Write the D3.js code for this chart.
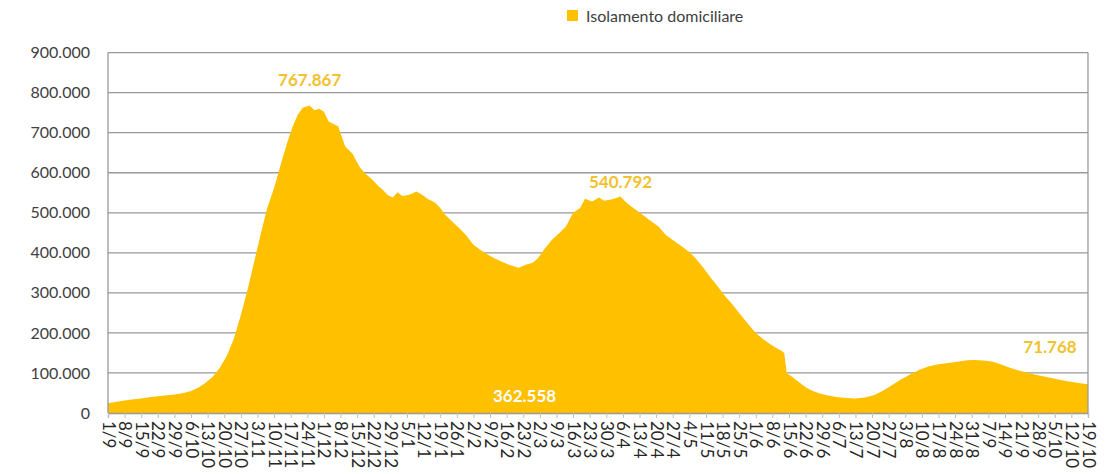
<!DOCTYPE html>
<html>
<head>
<meta charset="utf-8">
<script src="https://cdn.jsdelivr.net/npm/d3@7"></script>
<style>
  body { margin: 0; background: #fff; }
  svg { display: block; font-family: Lato, "Open Sans", sans-serif; }
</style>
</head>
<body>
<div id="chart"></div>
<script>
// Isolamento domiciliare, valori giornalieri (stime)
const date = [
  "2020-09-01","2020-09-04","2020-09-08","2020-09-11","2020-09-15","2020-09-19","2020-09-22","2020-09-26","2020-09-29",
  "2020-10-03","2020-10-06","2020-10-09","2020-10-12","2020-10-15","2020-10-18","2020-10-21","2020-10-24","2020-10-27","2020-10-30",
  "2020-11-02","2020-11-05","2020-11-07","2020-11-10","2020-11-13","2020-11-16","2020-11-18","2020-11-20","2020-11-22","2020-11-25","2020-11-27","2020-11-29",
  "2020-12-01","2020-12-03","2020-12-05","2020-12-07","2020-12-10","2020-12-13","2020-12-16","2020-12-18","2020-12-21","2020-12-24","2020-12-26","2020-12-28","2020-12-30",
  "2021-01-01","2021-01-03","2021-01-06","2021-01-09","2021-01-11","2021-01-14","2021-01-17","2021-01-19","2021-01-21","2021-01-24","2021-01-27","2021-01-30",
  "2021-02-02","2021-02-05","2021-02-08","2021-02-11","2021-02-14","2021-02-17","2021-02-21","2021-02-24","2021-02-27",
  "2021-03-01","2021-03-04","2021-03-07","2021-03-10","2021-03-13","2021-03-16","2021-03-19","2021-03-21","2021-03-24","2021-03-27","2021-03-29",
  "2021-04-01","2021-04-03","2021-04-05","2021-04-07","2021-04-09","2021-04-12","2021-04-15","2021-04-18","2021-04-21","2021-04-24","2021-04-27",
  "2021-05-01","2021-05-04","2021-05-07","2021-05-10","2021-05-13","2021-05-16","2021-05-19","2021-05-22","2021-05-25","2021-05-28",
  "2021-06-01","2021-06-04","2021-06-07","2021-06-10","2021-06-12","2021-06-13","2021-06-14","2021-06-16","2021-06-19","2021-06-22","2021-06-25","2021-06-28",
  "2021-07-01","2021-07-05","2021-07-09","2021-07-13","2021-07-17","2021-07-21","2021-07-25","2021-07-29",
  "2021-08-01","2021-08-05","2021-08-09","2021-08-13","2021-08-17","2021-08-21","2021-08-25","2021-08-29",
  "2021-09-01","2021-09-05","2021-09-09","2021-09-13","2021-09-17","2021-09-21","2021-09-25","2021-09-29",
  "2021-10-03","2021-10-07","2021-10-11","2021-10-15","2021-10-19"
];
const isolamento = [
  24500,27500,31000,33500,36500,40000,42000,44500,46500,
  50000,55000,63000,75000,90000,112000,142000,185000,245000,312000,
  388000,462000,510000,562000,625000,684000,718000,745000,762000,767867,756000,760000,
  752000,728000,722000,716000,665000,648000,615000,600000,585000,566000,556000,544000,538000,
  551000,542000,545000,553000,546000,534000,525000,512000,496000,478000,462000,443000,
  420000,407000,396000,386000,378000,370000,362558,370000,375000,
  385000,410000,432000,448000,466000,500000,512000,535000,528000,538000,530000,
  533000,536000,540792,528000,518000,505000,492000,478000,466000,445000,432000,
  415000,402000,384000,362000,338000,316000,292000,272000,250000,228000,
  200000,185000,172000,161000,155000,150000,100000,92000,78000,64000,55000,49000,
  44500,40000,37500,36000,38500,45000,57000,72000,
  83000,96000,108000,117000,122000,125000,128000,132000,
  132500,131000,128000,120000,111000,104000,98000,93000,
  88000,83000,78500,75000,71768
];
const etichette = [
  "1/9","8/9","15/9","22/9","29/9","6/10","13/10","20/10","27/10","3/11","10/11","17/11","24/11",
  "1/12","8/12","15/12","22/12","29/12","5/1","12/1","19/1","26/1","2/2","9/2","16/2","23/2",
  "2/3","9/3","16/3","23/3","30/3","6/4","13/4","20/4","27/4","4/5","11/5","18/5","25/5",
  "1/6","8/6","15/6","22/6","29/6","6/7","13/7","20/7","27/7","3/8","10/8","17/8","24/8","31/8",
  "7/9","14/9","21/9","28/9","5/10","12/10","19/10"
];
const yTicks = [0,100000,200000,300000,400000,500000,600000,700000,800000,900000];
// punti annotati: massimo, minimo, secondo massimo, ultimo valore
const annotati = ["2020-11-25","2021-02-21","2021-04-05","2021-10-19"];

const width = 1106, height = 474;
const margin = { top: 52.6, right: 18, bottom: 61, left: 108 };
const giallo = "#FFC000";
const parse = d3.timeParse("%Y-%m-%d");
const it = d3.formatLocale({ decimal: ",", thousands: ".", grouping: [3], currency: ["", "€"] });
const fmt = it.format(",");

const dati = date.map((d, i) => ({ data: parse(d), valore: isolamento[i] }));

const svg = d3.select("#chart")
  .append("svg")
  .attr("width", width)
  .attr("height", height);

const x = d3.scaleTime()
  .domain(d3.extent(dati, d => d.data))
  .range([margin.left, width - margin.right]);

const y = d3.scaleLinear()
  .domain([0, 900000])
  .range([height - margin.bottom, margin.top]);

// griglia orizzontale
svg.append("g")
  .selectAll("line")
  .data(yTicks)
  .join("line")
  .attr("x1", margin.left)
  .attr("x2", width - margin.right)
  .attr("y1", d => y(d))
  .attr("y2", d => y(d))
  .attr("stroke", "#999999")
  .attr("stroke-width", 1.3);

// area
const area = d3.area()
  .x(d => x(d.data))
  .y0(y(0))
  .y1(d => y(d.valore));

svg.append("path")
  .datum(dati)
  .attr("fill", giallo)
  .attr("d", area);

// bordi verticali del riquadro
svg.append("line")
  .attr("x1", margin.left).attr("x2", margin.left)
  .attr("y1", y(900000)).attr("y2", y(0))
  .attr("stroke", "#999999").attr("stroke-width", 1.3);
svg.append("line")
  .attr("x1", width - margin.right).attr("x2", width - margin.right)
  .attr("y1", y(900000)).attr("y2", y(0))
  .attr("stroke", "#999999").attr("stroke-width", 1.3);

// asse y
const yAxis = d3.axisLeft(y)
  .tickValues(yTicks)
  .tickFormat(fmt)
  .tickSize(0)
  .tickPadding(18);

svg.append("g")
  .attr("transform", `translate(${margin.left},0)`)
  .call(yAxis)
  .call(g => g.select(".domain").remove())
  .selectAll("text")
  .attr("font-family", "Lato, sans-serif")
  .attr("font-size", 16)
  .attr("fill", "#404040");

// asse x: una etichetta ogni 7 giorni
const settimane = etichette.map((e, i) => d3.timeDay.offset(x.domain()[0], 7 * i));

const xAxis = d3.axisBottom(x)
  .tickValues(settimane)
  .tickFormat((d, i) => etichette[i])
  .tickSize(5)
  .tickPadding(4);

svg.append("g")
  .attr("transform", `translate(0,${y(0)})`)
  .call(xAxis)
  .call(g => g.select(".domain").attr("stroke", "#999999").attr("stroke-width", 1.3))
  .call(g => g.selectAll(".tick line").attr("stroke", "#bfbfbf"))
  .selectAll("text")
  .attr("font-family", "Lato, sans-serif")
  .attr("font-size", 17)
  .attr("fill", "#262626")
  .attr("text-anchor", "start")
  .attr("transform", "rotate(90)")
  .attr("x", 8)
  .attr("y", 0)
  .attr("dy", "0.35em");

// etichette dei valori
const puntiAnnotati = annotati.map(a => dati.find(d => +d.data === +parse(a)));
const offset = [[0, -20], [6, 0], [0, -8], [-38, -31]];

svg.append("g")
  .selectAll("text")
  .data(puntiAnnotati)
  .join("text")
  .attr("x", (d, i) => x(d.data) + offset[i][0])
  .attr("y", (d, i) => i === 1 ? y(0) - 11 : y(d.valore) + offset[i][1])
  .attr("text-anchor", "middle")
  .attr("font-family", "Lato, sans-serif")
  .attr("font-weight", "bold")
  .attr("font-size", 17)
  .attr("fill", (d, i) => i === 1 ? "#ffffff" : "#f2c12e")
  .text(d => fmt(d.valore));

// legenda
const legenda = svg.append("g").attr("transform", "translate(567,10)");
legenda.append("rect")
  .attr("width", 11).attr("height", 11)
  .attr("fill", giallo);
legenda.append("text")
  .attr("x", 19).attr("y", 6)
  .attr("dy", "0.35em")
  .attr("font-family", "Lato, sans-serif")
  .attr("font-size", 16)
  .attr("fill", "#404040")
  .text("Isolamento domiciliare");
</script>
</body>
</html>
